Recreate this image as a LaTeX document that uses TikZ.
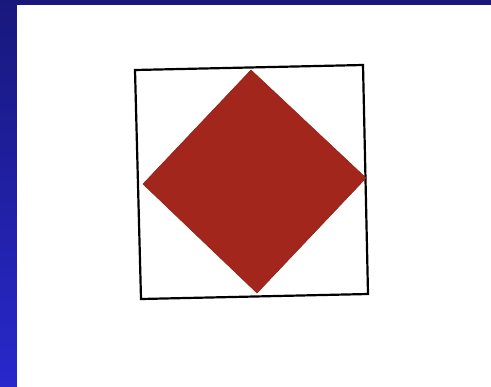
\documentclass[tikz,border=0pt]{standalone}
\usepackage{xcolor}
\usepackage{tikz}
\definecolor{slidetop}{RGB}{24,24,124}
\definecolor{slidebot}{RGB}{40,40,204}
\definecolor{flagred}{RGB}{162,38,28}
\tikzset{
  slidebg/.style={top color=slidetop, bottom color=slidebot, draw=none},
  paper/.style={fill=white, draw=none},
  frame/.style={draw=black, line width=1.1pt, line join=miter},
  diamondfill/.style={fill=flagred, draw=flagred!90!black, line width=0.3pt}
}
\begin{document}
\begin{tikzpicture}[x=0.5pt,y=-0.5pt]
\useasboundingbox (0,0) rectangle (491,386);
\fill[slidebg] (0,0) rectangle (491,386);
\fill[paper] (17,5) rectangle (495,392);
% outer square, slightly tilted as scanned
\coordinate (tl) at (135,70);
\coordinate (tr) at (363,65);
\coordinate (br) at (368,294);
\coordinate (bl) at (141,299);
\draw[frame] (tl) -- (tr) -- (br) -- (bl) -- cycle;
% red diamond
\coordinate (top) at (251,70);
\coordinate (right) at (366,178);
\coordinate (bottom) at (257,293);
\coordinate (left) at (143,184);
\filldraw[diamondfill] (top) -- (right) -- (bottom) -- (left) -- cycle;
\end{tikzpicture}
\end{document}
